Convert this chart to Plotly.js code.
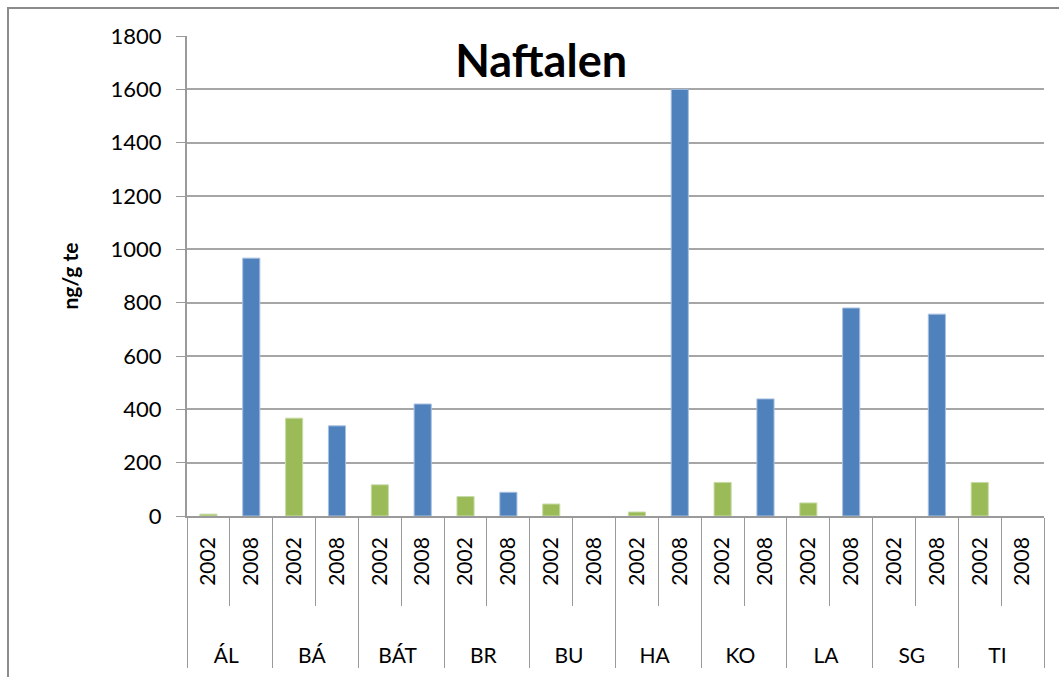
<!DOCTYPE html>
<html>
<head>
<meta charset="utf-8">
<script src="https://cdn.plot.ly/plotly-3.0.1.min.js"></script>
<style>
  body { margin: 0; background: #fff; }
  #frame { position: absolute; left: 7px; top: 7px; width: 1052px; height: 670px;
           border-top: 2px solid #8c8c8c; border-left: 2px solid #8c8c8c; }
  #plot { position: absolute; left: 0; top: 0; width: 1059px; height: 677px; }
</style>
</head>
<body>
<div id="frame"></div>
<div id="plot"></div>
<script>
// sites (outer category level) and sampling years (inner level)
const sites = ["ÁL", "BÁ", "BÁT", "BR", "BU", "HA", "KO", "LA", "SG", "TI"];
const years = ["2002", "2008"];
// naphthalene, ng/g dry weight
const v2002 = [7, 367, 117, 73, 45, 15, 126, 49, null, 126];
const v2008 = [967, 338, 420, 89, null, 1600, 439, 780, 757, null];

const yColors = { "2002": "#9BBB59", "2008": "#4F81BD" };
const yLines = { "2002": "#c9dca8", "2008": "#a8c0e0" };

// non-breaking spaces around the year push the labels and the site row down (text is turned -90°)
const padBottom = "\u00A0".repeat(7);
const padTop = "\u00A0".repeat(2);

const outer = [], inner = [], vals = [], cols = [], lcols = [];
sites.forEach((s, i) => {
    years.forEach(y => {
        outer.push(s);
        inner.push(padBottom + y + padTop);
        vals.push(y === "2002" ? v2002[i] : v2008[i]);
        cols.push(yColors[y]);
        lcols.push(yLines[y]);
    });
});

const font = "Lato, 'Open Sans', sans-serif";

const trace = {
    type: "bar",
    x: [outer, inner],
    y: vals,
    marker: { color: cols, line: { color: lcols, width: 1 } },
    hoverinfo: "x+y"
};

const layout = {
    width: 1059,
    height: 677,
    margin: { l: 187, r: 15, t: 36, b: 161 },
    paper_bgcolor: "rgba(0,0,0,0)",
    plot_bgcolor: "#fff",
    bargap: 0.6,
    showlegend: false,
    font: { family: font, color: "#000" },
    title: {
        text: "<b>Naftalen</b>",
        font: { family: font, size: 45, color: "#000" },
        x: 0.511, xanchor: "center",
        y: 0.91, yanchor: "middle"
    },
    xaxis: {
        type: "multicategory",
        showline: true, linecolor: "#9a9a9a", linewidth: 2,
        ticks: "outside", ticklen: 88, tickcolor: "#9a9a9a", tickwidth: 1,
        tickangle: -90,
        tickfont: { family: font, size: 21, color: "#000" },
        showdividers: true, dividercolor: "#9a9a9a", dividerwidth: 1,
        showgrid: false
    },
    yaxis: {
        range: [0, 1800],
        dtick: 200,
        ticks: "outside", ticklen: 9, tickcolor: "#9a9a9a",
        ticklabelstandoff: 10,
        showline: true, linecolor: "#9a9a9a", linewidth: 2,
        gridcolor: "#a6a6a6", gridwidth: 2,
        zeroline: false,
        tickfont: { family: font, size: 22, color: "#000" },
        title: { text: "<b>ng/g te</b>", font: { family: font, size: 21, color: "#000" }, standoff: 26 }
    }
};

Plotly.newPlot("plot", [trace], layout, { displayModeBar: false, staticPlot: true });
</script>
</body>
</html>
